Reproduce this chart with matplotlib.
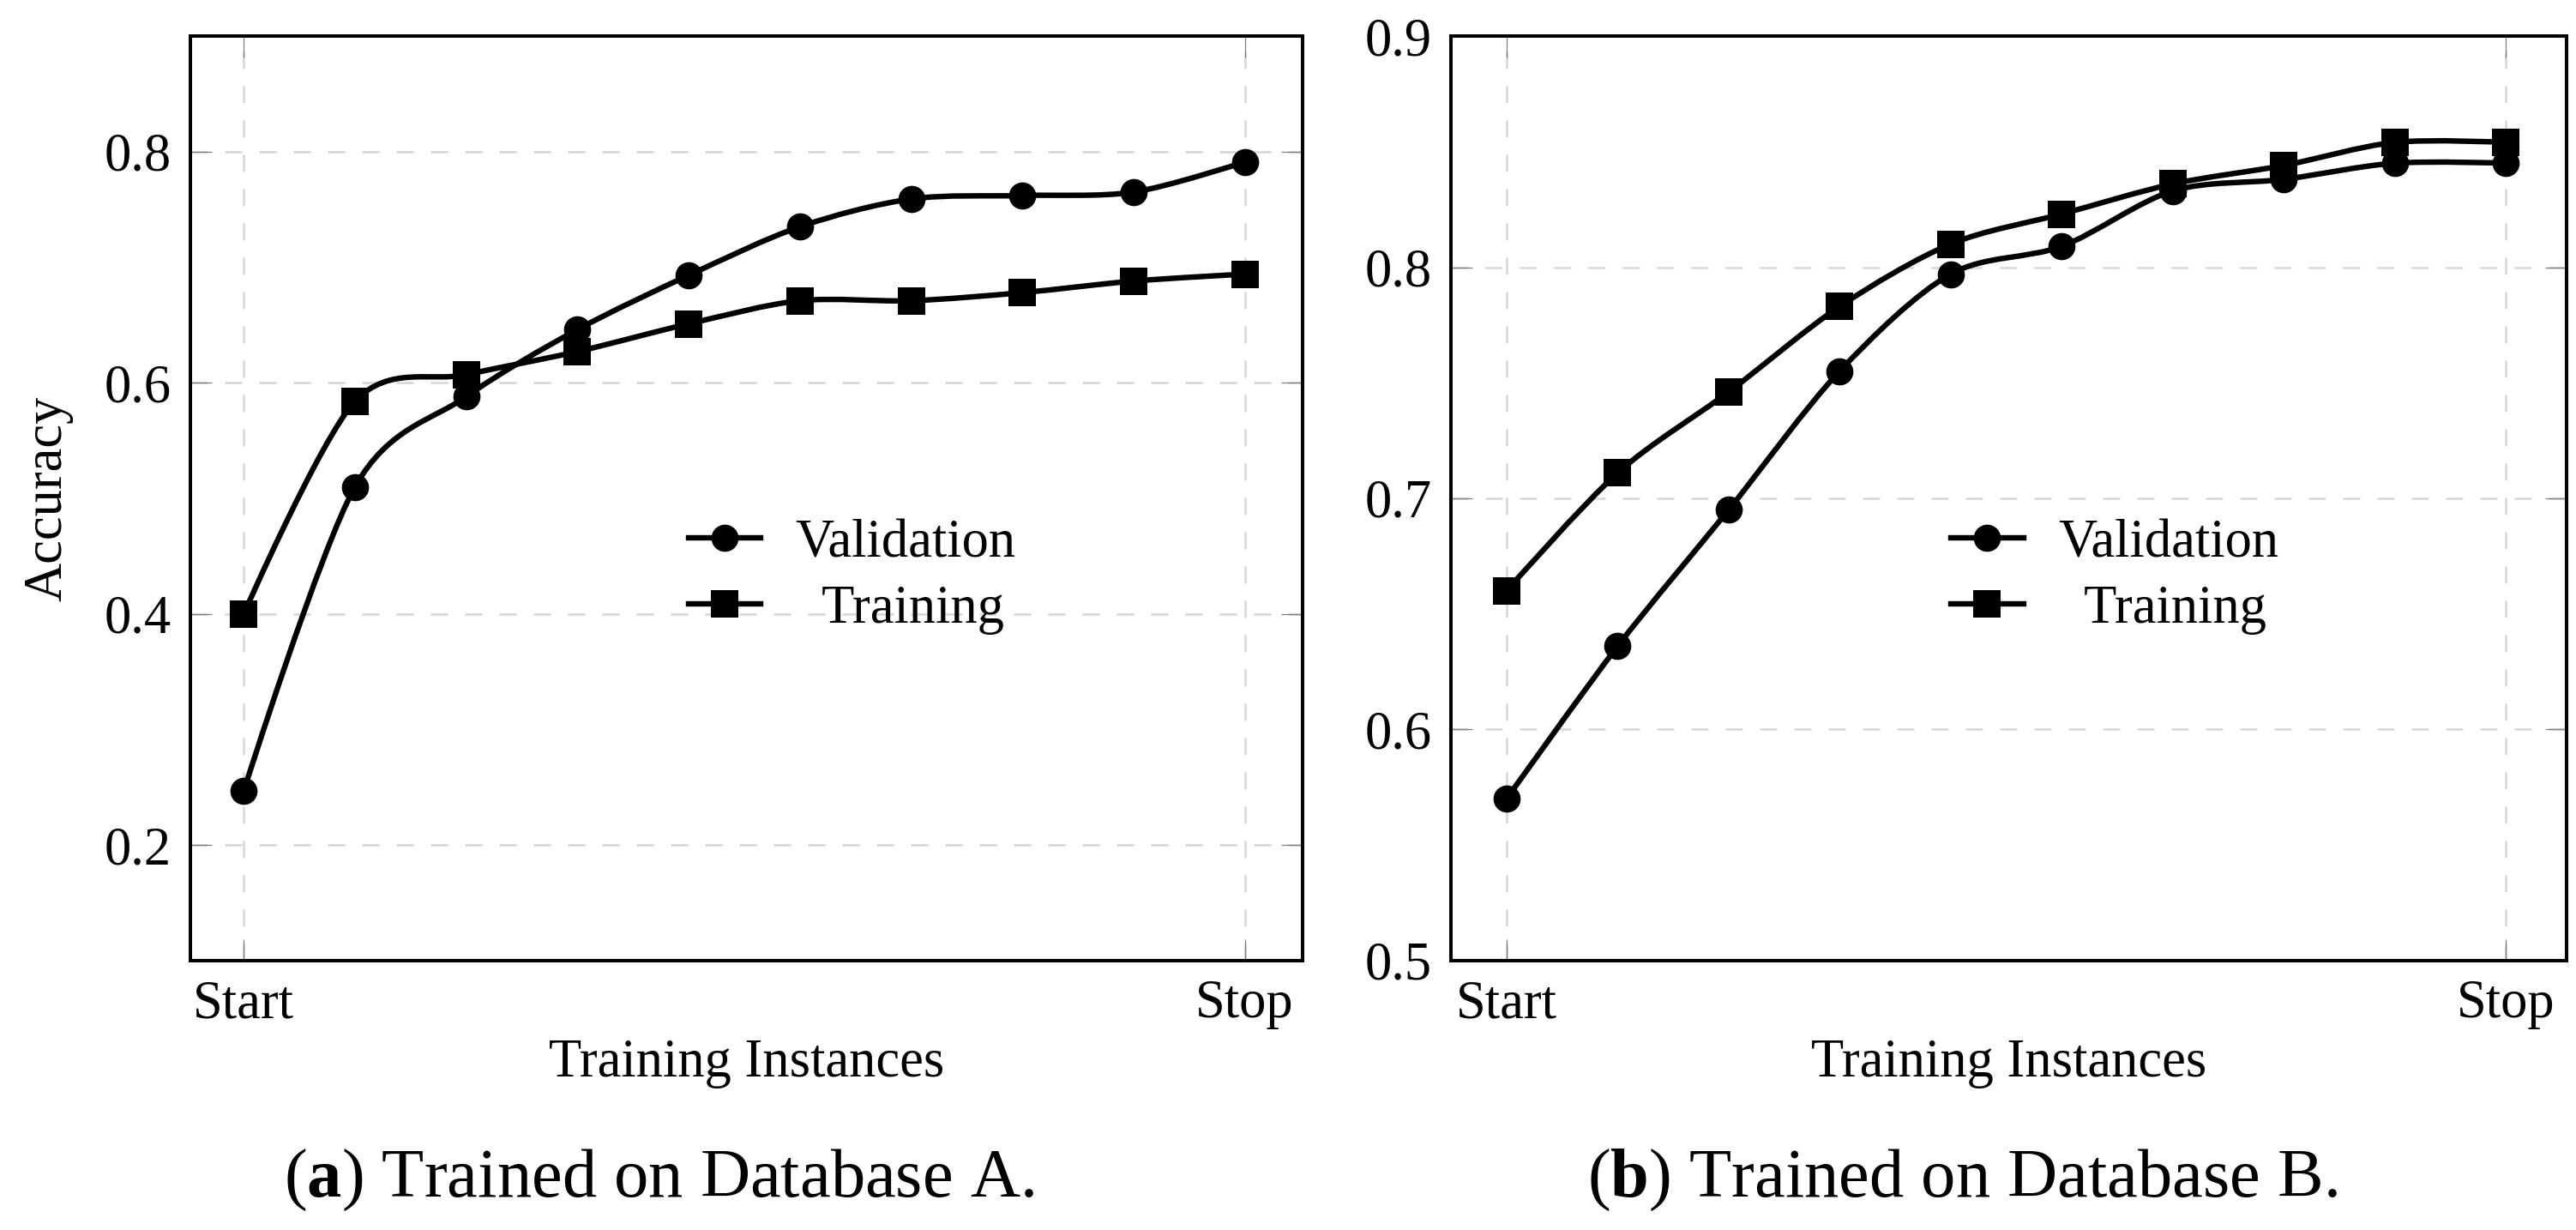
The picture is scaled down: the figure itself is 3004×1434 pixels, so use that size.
import numpy as np
import matplotlib
matplotlib.use("Agg")
import matplotlib.pyplot as plt
from matplotlib.path import Path
from matplotlib.patches import PathPatch
from matplotlib.lines import Line2D

plt.rcParams['font.family'] = ['Liberation Serif', 'DejaVu Serif']
plt.rcParams['mathtext.fontset'] = 'custom'
plt.rcParams['mathtext.rm'] = 'Liberation Serif'
plt.rcParams['mathtext.bf'] = 'Liberation Serif:bold'

# data (x = 10 evenly spaced training checkpoints)
steps = [0, 1, 2, 3, 4, 5, 6, 7, 8, 9]
x_ticks = [0, 9]
x_ticklabels = ["Start", "Stop"]

val_a = [0.247, 0.510, 0.588, 0.646, 0.693, 0.735, 0.759, 0.762, 0.765, 0.791]
train_a = [0.400, 0.584, 0.607, 0.627, 0.651, 0.671, 0.671, 0.678, 0.688, 0.694]

val_b = [0.570, 0.636, 0.695, 0.755, 0.797, 0.809, 0.833, 0.838, 0.845, 0.845]
train_b = [0.660, 0.711, 0.746, 0.783, 0.810, 0.823, 0.836, 0.844, 0.854, 0.854]

GRID = '#d9d9d9'
LW = 2.3


def smooth_path(xs, ys, tension=0.55):
    # pgfplots-style "smooth": cubic bezier segments through the points
    f = 0.2775 * tension
    pts = np.column_stack([xs, ys]).astype(float)
    n = len(pts)
    verts = [pts[0]]
    codes = [Path.MOVETO]
    for i in range(n - 1):
        prev = pts[i - 1] if i > 0 else pts[i]
        nxt = pts[i + 2] if i + 2 < n else pts[i + 1]
        c1 = pts[i] + f * (pts[i + 1] - prev) if i > 0 else pts[i]
        c2 = pts[i + 1] - f * (nxt - pts[i]) if i + 2 < n else pts[i + 1]
        verts += [c1, c2, pts[i + 1]]
        codes += [Path.CURVE4] * 3
    return Path(verts, codes)


def draw_panel(ax, val, train, ylim, yticks, xlim):
    for ys, mk, ms in [(val, 'o', 11.4), (train, 's', 11.8)]:
        ax.add_patch(PathPatch(smooth_path(steps, ys), fill=False, lw=LW,
                               edgecolor='black', zorder=3))
        ax.plot(steps, ys, ls='none', marker=mk, ms=ms, mew=0,
                color='black', zorder=4)
    ax.set_xlim(*xlim)
    ax.set_ylim(*ylim)
    ax.set_xticks(x_ticks)
    ax.set_xticklabels(x_ticklabels)
    ax.set_yticks(yticks)
    ax.set_yticklabels([f"{t:g}" for t in yticks])
    ax.grid(True, color=GRID, lw=1.0, ls=(0, (7.2, 7.2)), zorder=0)
    ax.set_axisbelow(True)
    ax.tick_params(direction='in', length=9, width=0.45, color='#808080',
                   top=True, right=True, labelsize=22.5, pad=8)
    for s in ax.spines.values():
        s.set_linewidth(1.45)
    ax.set_xlabel("Training Instances", fontsize=22.5, labelpad=4)
    handles = [Line2D([], [], color='black', lw=LW, marker='o', ms=11.4, mew=0),
               Line2D([], [], color='black', lw=LW, marker='s', ms=11.8, mew=0)]
    ax.legend(handles, ["Validation", "  Training"], loc='center',
              bbox_to_anchor=(0.595, 0.415), frameon=False, fontsize=22.5,
              handlelength=1.35, handletextpad=0.65, labelspacing=0.3)


fig = plt.figure(figsize=(15.02, 7.17), dpi=200)
ax1 = fig.add_axes([0.0739, 0.2190, 0.4318, 0.7517])
ax2 = fig.add_axes([0.5633, 0.2190, 0.4331, 0.7517])

draw_panel(ax1, val_a, train_a, (0.1, 0.9), [0.2, 0.4, 0.6, 0.8], (-0.48, 9.52))
draw_panel(ax2, val_b, train_b, (0.5, 0.9), [0.5, 0.6, 0.7, 0.8, 0.9], (-0.5, 9.55))

ax1.set_ylabel("Accuracy", fontsize=22.5)
ax1.yaxis.set_label_coords(-0.105, 0.5)

fig.text(0.2557, 0.0272, r"($\mathbf{a}$) Trained on Database A.", fontsize=29,
         ha='center', va='baseline')
fig.text(0.762, 0.0272, r"($\mathbf{b}$) Trained on Database B.", fontsize=29,
         ha='center', va='baseline')

fig.savefig("out.png", dpi=200)
